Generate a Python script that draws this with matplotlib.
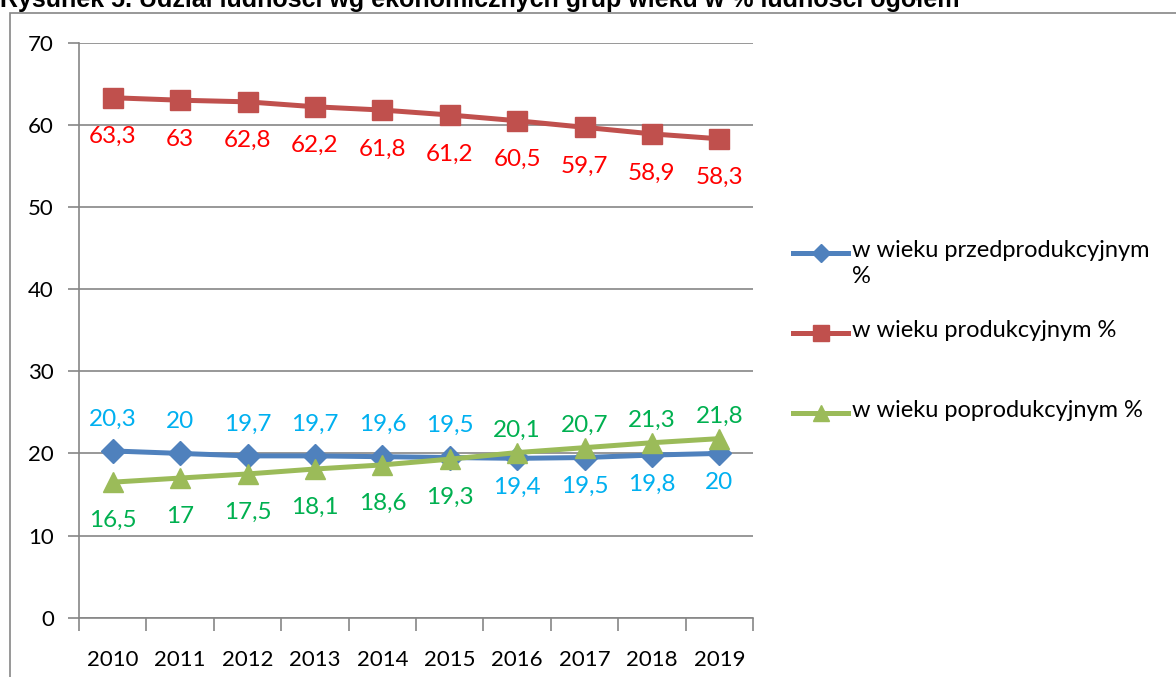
import numpy as np
import matplotlib.pyplot as plt
from matplotlib.lines import Line2D
from matplotlib.patches import Rectangle

# data
years = ['2010', '2011', '2012', '2013', '2014', '2015', '2016', '2017', '2018', '2019']
przed = [20.3, 20.0, 19.7, 19.7, 19.6, 19.5, 19.4, 19.5, 19.8, 20.0]
prod = [63.3, 63.0, 62.8, 62.2, 61.8, 61.2, 60.5, 59.7, 58.9, 58.3]
poprod = [16.5, 17.0, 17.5, 18.1, 18.6, 19.3, 20.1, 20.7, 21.3, 21.8]

labels = ['w wieku przedprodukcyjnym %', 'w wieku produkcyjnym %', 'w wieku poprodukcyjnym %']
title = 'Rysunek 5. Udział ludności wg ekonomicznych grup wieku w % ludności ogółem'

W, H = 1176, 677
plt.rcParams['font.family'] = ['Lato', 'DejaVu Sans']
fig = plt.figure(figsize=(W / 100, H / 100), dpi=100)

grid_c = '#868686'
blue, red, green = '#4F81BD', '#C0504D', '#9BBB59'

# outer chart frame
fig.add_artist(Rectangle((10 / W, -0.05), 1.2, (H - 13) / H + 0.05, transform=fig.transFigure,
                         fill=False, edgecolor=grid_c, lw=1.2))
fig.text(0, (H - 7) / H, title, fontsize=18, fontweight='bold', family='Liberation Sans',
         ha='left', va='baseline')

ax = fig.add_axes([79 / W, (H - 617.7) / H, (753 - 79) / W, (617.7 - 42.7) / H])
x = np.arange(len(years))

ax.plot(x, przed, color=blue, lw=3.6, marker='D', ms=12, zorder=3)
ax.plot(x, prod, color=red, lw=3.6, marker='s', ms=14, zorder=3)
ax.plot(x, poprod, color=green, lw=3.6, marker='^', ms=15, zorder=4)

ax.set_xlim(-0.5, len(years) - 0.5)
ax.set_ylim(0, 70)
ax.set_yticks(range(0, 71, 10))
ax.set_xticks(x)
ax.set_xticklabels(years)
ax.set_xticks(np.arange(-0.5, len(years), 1), minor=True)
ax.tick_params(axis='x', which='major', length=0, pad=23, labelsize=16)
ax.tick_params(axis='x', which='minor', length=9, width=1.2, color=grid_c, direction='out')
ax.tick_params(axis='y', length=8, width=1.2, color=grid_c, pad=10, labelsize=16)
ax.grid(axis='y', color=grid_c, lw=1.2)
ax.set_axisbelow(True)
for s in ['top', 'right']:
    ax.spines[s].set_visible(False)
for s in ['left', 'bottom']:
    ax.spines[s].set_color(grid_c)
    ax.spines[s].set_linewidth(1.2)

# data labels
for i in range(len(years)):
    ax.annotate(f'{prod[i]:g}'.replace('.', ','), (x[i], prod[i]), xytext=(0, -39),
                textcoords='offset pixels', ha='center', va='center', color='#FF0000', fontsize=17.5)
    dy_b = 32 if i < 6 else -29
    ax.annotate(f'{przed[i]:g}'.replace('.', ','), (x[i], przed[i]), xytext=(0, dy_b),
                textcoords='offset pixels', ha='center', va='center', color='#00B0F0', fontsize=17.5)
    dy_g = -38 if i < 6 else 22
    ax.annotate(f'{poprod[i]:g}'.replace('.', ','), (x[i], poprod[i]), xytext=(0, dy_g),
                textcoords='offset pixels', ha='center', va='center', color='#00B050', fontsize=17.5)

# legend drawn on the right
leg_y = [253, 333, 413]
styles = [(blue, 'D', 9), (red, 's', 12), (green, '^', 12)]
leg_text = ['w wieku przedprodukcyjnym\n%', labels[1], labels[2]]
for (c, m, ms), ty, t in zip(styles, leg_y, leg_text):
    yy = (H - ty) / H
    fig.add_artist(Line2D([793 / W, 848 / W], [yy, yy], color=c, lw=3.6, transform=fig.transFigure))
    fig.add_artist(Line2D([820.5 / W], [yy], color=c, marker=m, ms=ms, transform=fig.transFigure))
    fig.text(852 / W, yy + 13 / H, t, fontsize=17, ha='left', va='top', linespacing=1.3)

fig.savefig('out.png', dpi=100)
